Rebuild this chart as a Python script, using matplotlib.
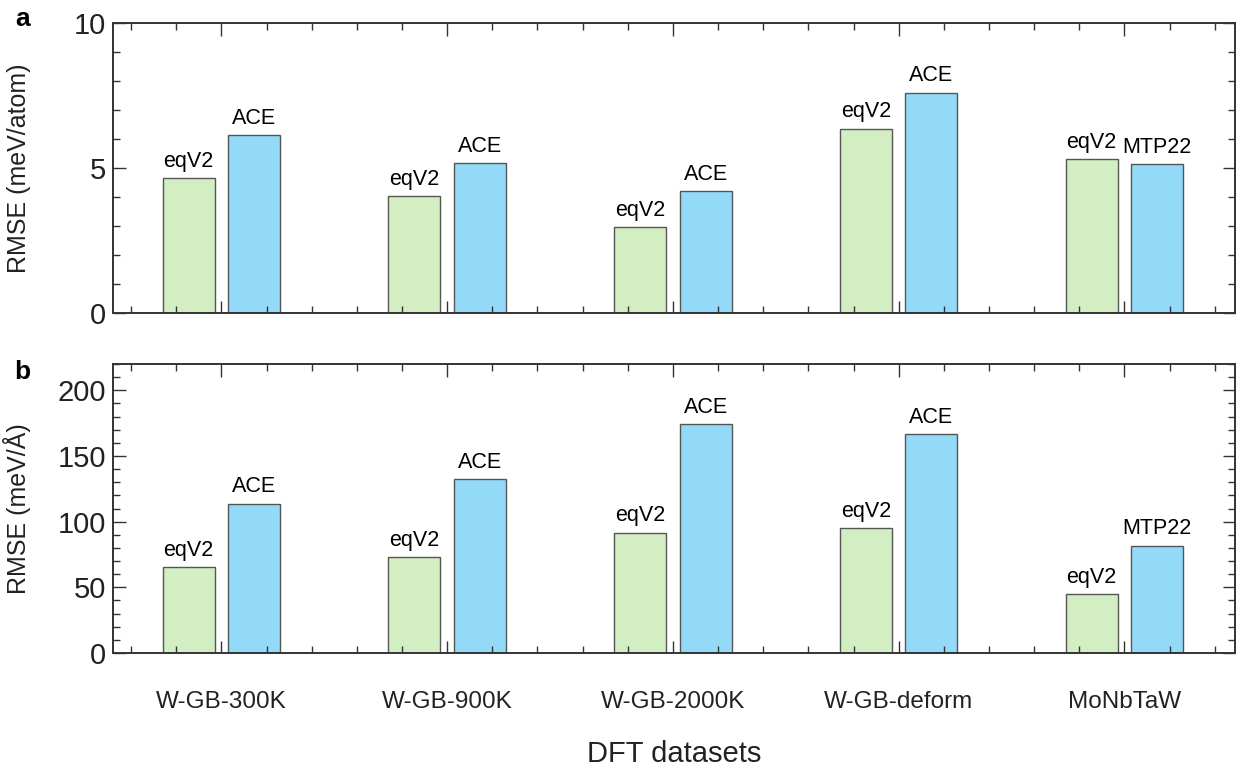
import numpy as np
import matplotlib.pyplot as plt
from matplotlib.ticker import MultipleLocator

# datasets and RMSE values
datasets = ['W-GB-300K', 'W-GB-900K', 'W-GB-2000K', 'W-GB-deform', 'MoNbTaW']
ref_names = ['ACE', 'ACE', 'ACE', 'ACE', 'MTP22']

energy_eqv2 = [4.65, 4.02, 2.95, 6.36, 5.30]
energy_ref = [6.12, 5.18, 4.21, 7.60, 5.12]

force_eqv2 = [65.3, 72.8, 91.6, 94.8, 45.1]
force_ref = [113.8, 132.2, 174.3, 166.5, 81.8]

green = '#d3eec3'
blue = '#93d9f8'
edge = '#555555'

plt.rcParams['font.family'] = ['Liberation Sans', 'DejaVu Sans']

fig = plt.figure(figsize=(12.38, 7.70), dpi=100)
ax_a = fig.add_axes([0.0913, 0.5935, 0.9063, 0.3767])
ax_b = fig.add_axes([0.0913, 0.1519, 0.9063, 0.3754])

x = np.arange(len(datasets))
off = 0.145
w = 0.23


def draw_panel(ax, v1, v2, ylim, major, minor):
    b1 = ax.bar(x - off, v1, w, color=green, edgecolor=edge, linewidth=1.0)
    b2 = ax.bar(x + off, v2, w, color=blue, edgecolor=edge, linewidth=1.0)
    for r, v in zip(b1, v1):
        ax.annotate('eqV2', (r.get_x() + r.get_width() / 2, v), xytext=(0, 4.5),
                    textcoords='offset points', ha='center', va='bottom', fontsize=15.5)
    for r, v, n in zip(b2, v2, ref_names):
        ax.annotate(n, (r.get_x() + r.get_width() / 2, v), xytext=(0, 4.5),
                    textcoords='offset points', ha='center', va='bottom', fontsize=15.5)
    ax.set_xlim(-0.48, 4.49)
    ax.set_ylim(*ylim)
    ax.yaxis.set_major_locator(MultipleLocator(major))
    ax.yaxis.set_minor_locator(MultipleLocator(minor))
    ax.set_xticks(x)
    ax.xaxis.set_minor_locator(MultipleLocator(0.2))
    ax.tick_params(which='both', direction='in', top=True, right=True,
                   width=1.0, color='#333333', labelsize=21, labelcolor='#222222')
    ax.tick_params(which='major', length=9)
    ax.tick_params(which='minor', length=5)
    ax.tick_params(axis='y', pad=5)
    for s in ax.spines.values():
        s.set_linewidth(1.4)
        s.set_color('#333333')


draw_panel(ax_a, energy_eqv2, energy_ref, (0, 10), 5, 1)
draw_panel(ax_b, force_eqv2, force_ref, (0, 220), 50, 10)

ax_a.set_xticklabels([])
ax_b.set_xticklabels(datasets, fontsize=17.5)
ax_b.tick_params(axis='x', pad=27)

ax_a.set_ylabel('RMSE (meV/atom)', fontsize=18, color='#222222')
ax_b.set_ylabel('RMSE (meV/Å)', fontsize=18, color='#222222')
ax_a.yaxis.set_label_coords(-0.073, 0.5)
ax_b.yaxis.set_label_coords(-0.073, 0.5)
ax_b.set_xlabel('DFT datasets', fontsize=21, color='#222222', labelpad=20)

fig.text(0.018, 0.975, 'a', fontsize=19, fontweight='bold', va='center', ha='center')
fig.text(0.018, 0.517, 'b', fontsize=19, fontweight='bold', va='center', ha='center')

fig.savefig('out.png', dpi=100)
